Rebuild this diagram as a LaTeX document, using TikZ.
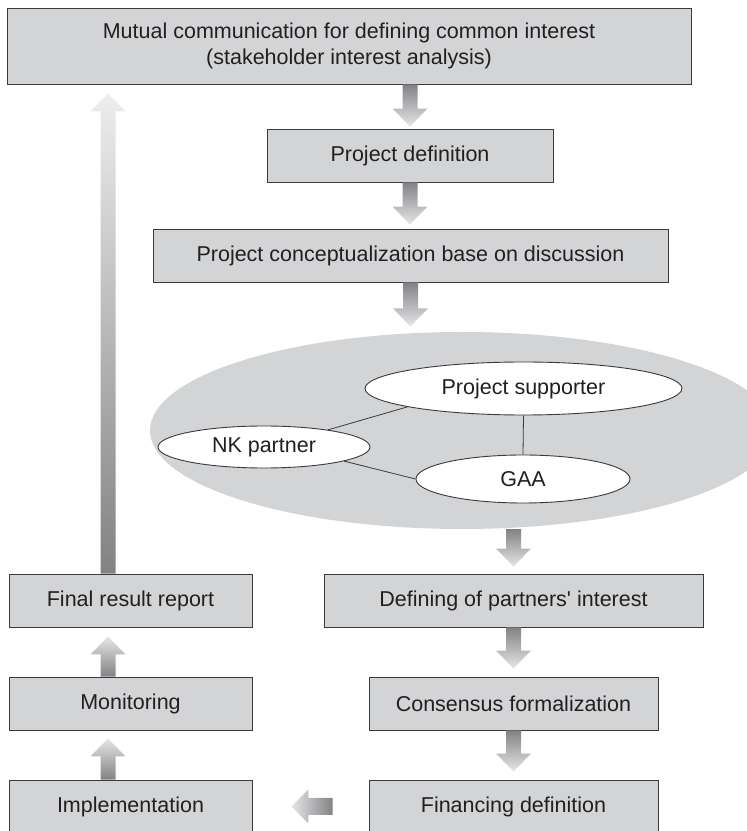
\documentclass[tikz,border=0pt]{standalone}
\usepackage{fontspec}
\setmainfont{Liberation Sans}[Ligatures=TeXOff]
\usetikzlibrary{shapes.geometric,calc}
\definecolor{fgray}{RGB}{211,212,214}
\definecolor{fline}{RGB}{58,58,60}
\definecolor{ftext}{RGB}{35,31,32}
\definecolor{adark}{RGB}{130,130,132}
\definecolor{alight}{RGB}{230,230,232}

% block arrow, vertical: start, tip, shading
\newcommand{\vflow}[3]{%
  \path[#3] let \p1=(#1), \p2=(#2), \n1={sign(\y1-\y2)} in
    (\x1-7.5pt,\y1) -- (\x1-7.5pt,{\y2+\n1*18pt}) -- (\x1-17.5pt,{\y2+\n1*18pt})
    -- (\x1,\y2) -- (\x1+17.5pt,{\y2+\n1*18pt}) -- (\x1+7.5pt,{\y2+\n1*18pt})
    -- (\x1+7.5pt,\y1) -- cycle;}

\begin{document}
\begin{tikzpicture}[x=1pt,y=1pt,
    box/.style={draw=fline,line width=0.9pt,fill=fgray,text=ftext,
                minimum height=53pt,inner sep=0pt,align=center,
                font=\fontsize{21.5}{26}\selectfont},
    oval/.style={ellipse,draw=fline,line width=0.9pt,fill=white,text=ftext,
                 inner sep=0pt,font=\fontsize{21.5}{26}\selectfont},
    down/.style={top color=adark,bottom color=alight},
    up/.style={top color=alight,bottom color=adark}]
    \useasboundingbox (0,0) rectangle (747,831);
    \node[box,minimum width=684pt,minimum height=76pt] (mutual) at (349,785)
      {Mutual communication for defining common interest\\(stakeholder interest analysis)};
    \node[box,minimum width=286pt] (projdef) at (410,675.5) {Project definition};
    \node[box,minimum width=515pt] (concept) at (410.5,575.5)
      {Project conceptualization base on discussion};
    % stakeholder group
    \node[ellipse,fill=fgray,minimum width=624pt,minimum height=197pt,
          inner sep=0pt] (cloud) at (462,400.5) {};
    \node[oval,minimum width=317pt,minimum height=53pt] (supporter) at (523.5,442.5)
      {Project supporter};
    \node[oval,minimum width=212pt,minimum height=42pt] (nkpartner) at (264,384)
      {NK partner};
    \node[oval,minimum width=214pt,minimum height=48pt] (gaa) at (523,352) {GAA};
    \draw[fline,line width=0.8pt] (supporter.189) -- (nkpartner.15);
    \draw[fline,line width=0.8pt] (nkpartner.-10) -- (gaa.west);
    \draw[fline,line width=0.8pt] (supporter.south) -- (gaa.north);
    \node[box,minimum width=379pt] (partners) at (513.5,230.5)
      {Defining of partners' interest};
    \node[box,minimum width=289pt] (consensus) at (513.5,127.5)
      {Consensus formalization};
    \node[box,minimum width=289pt] (financing) at (513.5,24.5)
      {Financing definition};
    \node[box,minimum width=243pt] (final) at (130.5,230.5) {Final result report};
    \node[box,minimum width=243pt] (monitor) at (130.5,127.5) {Monitoring};
    \node[box,minimum width=243pt] (implement) at (130.5,24.5) {Implementation};
    \coordinate (lcol) at (108,0);
    % arrows
    \vflow{projdef.north |- mutual.south}{$(projdef.north)+(0,2)$}{down}
    \vflow{projdef.south}{$(concept.north)+(0,4)$}{down}
    \vflow{concept.south}{$(concept.south)+(0,-44)$}{down}
    \vflow{partners.north |- cloud.south}{$(partners.north)+(0,7)$}{down}
    \vflow{partners.south}{$(consensus.north)+(0,8)$}{down}
    \vflow{consensus.south}{$(financing.north)+(0,8)$}{down}
    \vflow{lcol |- implement.north}{$(lcol |- monitor.south)+(0,-8)$}{up}
    \vflow{lcol |- monitor.north}{$(lcol |- final.south)+(0,-9)$}{up}
    \vflow{lcol |- final.north}{$(lcol |- mutual.south)+(0,-9)$}
      {top color=alight!70!white,bottom color=adark}
    \path[left color=alight,right color=adark]
      let \p1=($(financing.west)+(-36,0)$), \p2=($(implement.east)+(39,0)$) in
      (\x1,\y1-8.5pt) -- (\x2+17pt,\y1-8.5pt) -- (\x2+17pt,\y1-17pt) -- (\x2,\y1)
      -- (\x2+17pt,\y1+17pt) -- (\x2+17pt,\y1+8.5pt) -- (\x1,\y1+8.5pt) -- cycle;
  \end{tikzpicture}
\end{document}
